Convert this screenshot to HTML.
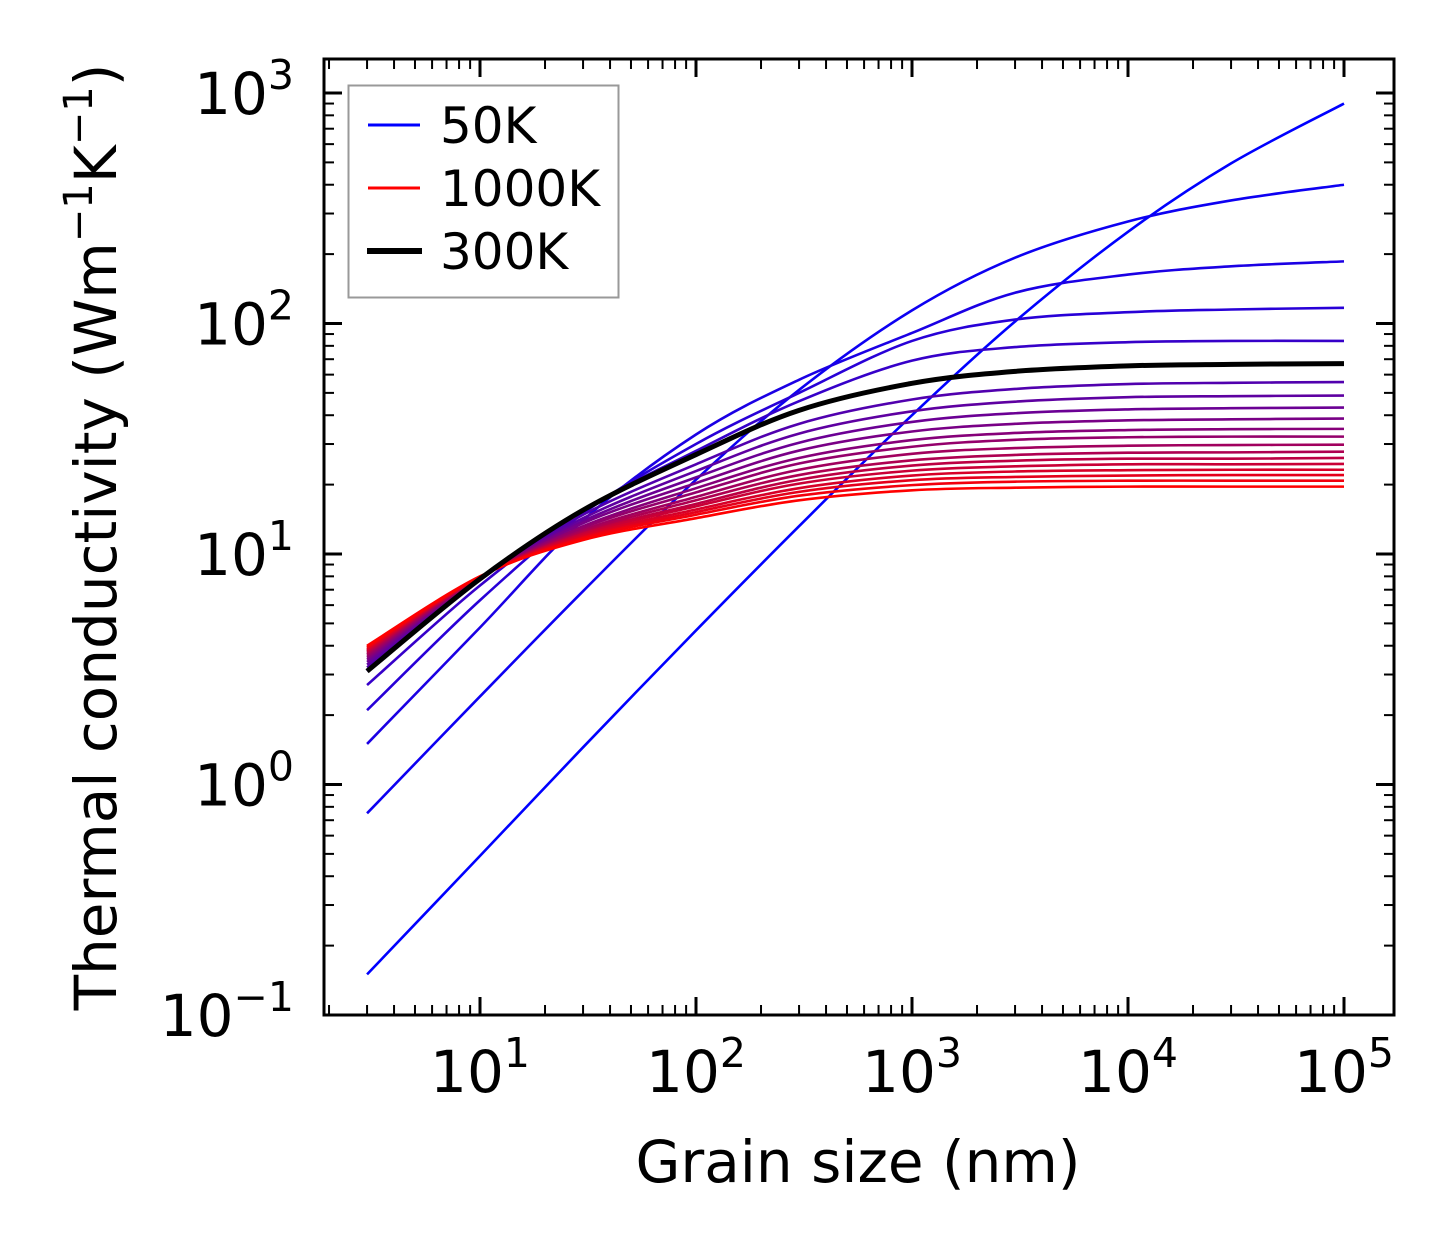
<!DOCTYPE html>
<html><head><meta charset="utf-8">
<style>
html,body{margin:0;padding:0;background:#fff;}
svg{display:block;font-family:"DejaVu Sans","Liberation Sans",sans-serif;}
</style></head>
<body>
<svg id="chart" width="1454" height="1254" viewBox="0 0 1454 1254" xmlns="http://www.w3.org/2000/svg">
<rect x="0" y="0" width="1454" height="1254" fill="#fff"/>
<g id="curves"></g>
<g id="axes"></g>
<text x="858" y="1182" font-size="58" text-anchor="middle">Grain size (nm)</text>
<text transform="translate(116,537) rotate(-90)" font-size="58" text-anchor="middle">Thermal conductivity (Wm<tspan dy="-24" font-size="40">−1</tspan><tspan dy="24">K</tspan><tspan dy="-24" font-size="40">−1</tspan><tspan dy="24">)</tspan></text>
<g>
<rect x="348.5" y="85.5" width="270" height="212" fill="#fff" stroke="#999" stroke-width="2"/>
<line x1="368" y1="125" x2="420" y2="125" stroke="#0000ff" stroke-width="3"/>
<text x="440" y="143" font-size="50">50K</text>
<line x1="368" y1="188" x2="420" y2="188" stroke="#ff0000" stroke-width="3"/>
<text x="440" y="206" font-size="50">1000K</text>
<line x1="367" y1="251" x2="422" y2="251" stroke="#000" stroke-width="6"/>
<text x="440" y="269" font-size="50">300K</text>
</g>
</svg>
<script>
const grainSizes = [3,10,30,100,300,1000,3000,10000,30000,100000];
const temperatures = [50,100,150,200,250,300,350,400,450,500,550,600,650,700,750,800,850,900,950,1000];
const k50  = [0.15,0.49,1.45,4.66,13.2,40,102,250,495,900];
const k100 = [0.75,2.41,6.9,21,51.5,114,193,277,342,400];
const k150 = [1.5,4.8,14,33,57,91,136,163,177,186];
const k200 = [2.1,6.3,15,30,50,84,104,112,115,117];
const k250 = [2.7,7.3,15.5,28,46,69,79,83,84,84];
const k300 = [3.1,7.8,15.5,27,42,55,62,65.5,66.5,67];
const k350 = [3.22,7.83,14.8,24.5,36.7,46.8,52.0,54.6,55.3,55.7];
const k400 = [3.31,7.85,14.3,22.9,33.3,41.6,45.8,47.9,48.4,48.7];
const k450 = [3.40,7.87,13.9,21.5,30.4,37.4,40.8,42.4,42.9,43.2];
const k500 = [3.48,7.89,13.6,20.3,28.1,34.0,36.7,38.0,38.4,38.7];
const k550 = [3.55,7.91,13.2,19.3,26.1,31.2,33.5,34.5,34.8,34.9];
const k600 = [3.61,7.91,13.0,18.5,24.7,29.2,31.3,32.1,32.3,32.3];
const k650 = [3.67,7.93,12.7,17.7,23.2,27.2,28.8,29.5,29.7,29.8];
const k700 = [3.72,7.94,12.5,17.1,22.0,25.5,26.9,27.5,27.6,27.8];
const k750 = [3.77,7.95,12.3,16.5,21.0,24.2,25.4,25.9,25.9,26.1];
const k800 = [3.81,7.96,12.2,16.1,20.2,23.0,24.0,24.5,24.5,24.6];
const k850 = [3.86,7.96,12.0,15.6,19.3,21.9,22.8,23.1,23.2,23.2];
const k900 = [3.91,7.97,11.8,15.2,18.6,20.9,21.6,21.9,22.0,22.0];
const k950 = [3.95,7.98,11.7,14.8,17.9,19.9,20.6,20.8,20.8,20.8];
const k1000= [4.0,8.0,11.5,14.3,17.1,18.9,19.4,19.6,19.6,19.6];
const series = [k50,k100,k150,k200,k250,k300,k350,k400,k450,k500,k550,k600,k650,k700,k750,k800,k850,k900,k950,k1000];
const xTickExps = [1,2,3,4,5];
const yTickExps = [-1,0,1,2,3];

const NS="http://www.w3.org/2000/svg";
const L=324,R=1394,T=59,B=1015;
const X10=480, XDEC=216, YDEC=230.5;
const xMin=1+(L-X10)/XDEC, xMax=1+(R-X10)/XDEC;
const yMin=-1, yMax=-1+(B-T)/YDEC;
function xs(v){return L+(Math.log10(v)-xMin)/(xMax-xMin)*(R-L);}
function ys(v){return B-(Math.log10(v)-yMin)/(yMax-yMin)*(B-T);}

const curves=document.getElementById('curves');
function pathFor(arr){
  const p=grainSizes.map((g,i)=>[xs(g),ys(arr[i])]);
  let d='M'+p[0][0].toFixed(2)+','+p[0][1].toFixed(2);
  for(let i=0;i<p.length-1;i++){
    const p0=p[Math.max(i-1,0)],p1=p[i],p2=p[i+1],p3=p[Math.min(i+2,p.length-1)];
    const c1=[p1[0]+(p2[0]-p0[0])/6,p1[1]+(p2[1]-p0[1])/6];
    const c2=[p2[0]-(p3[0]-p1[0])/6,p2[1]-(p3[1]-p1[1])/6];
    d+=' C'+c1.map(v=>v.toFixed(2)).join(',')+' '+c2.map(v=>v.toFixed(2)).join(',')+' '+p2.map(v=>v.toFixed(2)).join(',');
  }
  return d;
}
series.forEach((arr,i)=>{
  const t=i/(series.length-1);
  const el=document.createElementNS(NS,'path');
  el.setAttribute('d',pathFor(arr));
  el.setAttribute('fill','none');
  el.setAttribute('stroke','rgb('+Math.round(255*t)+',0,'+Math.round(255*(1-t))+')');
  el.setAttribute('stroke-width','2.6');
  
  
  curves.appendChild(el);
});
const blk=document.createElementNS(NS,'path');
blk.setAttribute('d',pathFor(k300));
blk.setAttribute('fill','none');
blk.setAttribute('stroke','#000');
blk.setAttribute('stroke-width','5');


curves.appendChild(blk);

const axes=document.getElementById('axes');
function line(x1,y1,x2,y2,w,name){
  const l=document.createElementNS(NS,'line');
  l.setAttribute('x1',x1);l.setAttribute('y1',y1);l.setAttribute('x2',x2);l.setAttribute('y2',y2);
  l.setAttribute('stroke','#000');l.setAttribute('stroke-width',w);
  
  
  axes.appendChild(l);
}
for(let e=0;e<=5;e++){
  for(let m=1;m<10;m++){
    const v=m*Math.pow(10,e); const x=xs(v);
    if(x<L+2||x>R-2) continue;
    const len=m===1?18:10, w=m===1?3:2;
    line(x,B,x,B-len,w,'x-tick');
    line(x,T,x,T+len,w,'x-tick-top');
  }
}
for(let e=-1;e<=3;e++){
  for(let m=1;m<10;m++){
    const v=m*Math.pow(10,e); const y=ys(v);
    if(y<T||y>B) continue;
    const len=m===1?18:10, w=m===1?3:2;
    line(L,y,L+len,y,w,'y-tick');
    line(R,y,R-len,y,w,'y-tick-right');
  }
}
const fr=document.createElementNS(NS,'rect');
fr.setAttribute('x',L);fr.setAttribute('y',T);fr.setAttribute('width',R-L);fr.setAttribute('height',B-T);
fr.setAttribute('fill','none');fr.setAttribute('stroke','#000');fr.setAttribute('stroke-width','3');


axes.appendChild(fr);
function tickLabel(x,y,exp,anchor,name){
  const t=document.createElementNS(NS,'text');
  t.setAttribute('x',x);t.setAttribute('y',y);t.setAttribute('font-size','58');t.setAttribute('text-anchor',anchor);
  
  
  const a=document.createElementNS(NS,'tspan');a.textContent='10';t.appendChild(a);
  const b=document.createElementNS(NS,'tspan');b.setAttribute('dy','-25');b.setAttribute('font-size','41');
  b.textContent=exp<0?'−'+Math.abs(exp):String(exp);t.appendChild(b);
  axes.appendChild(t);
}
xTickExps.forEach(e=>tickLabel(xs(Math.pow(10,e)),1092,e,'middle','x-tick-label'));
yTickExps.forEach(e=>tickLabel(294,ys(Math.pow(10,e))+21,e,'end','y-tick-label'));
</script>
</body></html>
